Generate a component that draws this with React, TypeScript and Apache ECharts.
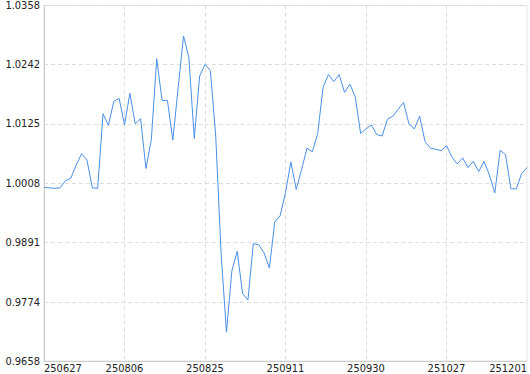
import React, { useEffect, useRef } from "react";
import * as echarts from "echarts";

const dates: string[] = [
  "250627", "250630", "250703", "250707", "250709", "250711", "250715", "250717",
  "250721", "250723", "250725", "250729", "250731", "250801", "250804", "250806",
  "250807", "250808", "250811", "250812", "250813", "250814", "250815", "250816",
  "250818", "250819", "250820", "250821", "250822", "250823", "250825",
  "250826", "250827", "250828", "250829", "250830", "250901", "250902", "250903",
  "250904", "250905", "250906", "250908", "250909", "250910", "250911",
  "250912", "250913", "250915", "250916", "250917", "250918", "250919", "250920",
  "250922", "250923", "250924", "250925", "250926", "250929", "250930",
  "251009", "251010", "251011", "251013", "251014", "251015", "251016", "251017",
  "251018", "251020", "251021", "251022", "251023", "251024", "251027",
  "251029", "251031", "251103", "251105", "251107", "251110", "251112", "251114",
  "251117", "251119", "251121", "251124", "251126", "251128", "251201",
];

const values: number[] = [
  1.0000, 0.9999, 0.9998, 0.9999, 1.0013, 1.0018, 1.0044, 1.0066,
  1.0054, 0.9999, 0.9998, 1.0145, 1.0122, 1.0169, 1.0175, 1.0123,
  1.0185, 1.0125, 1.0135, 1.0037, 1.0094, 1.0253, 1.0171, 1.0171,
  1.0093, 1.0196, 1.0298, 1.0255, 1.0096, 1.0219, 1.0242,
  1.0230, 1.0101, 0.9870, 0.9715, 0.9835, 0.9874, 0.9791, 0.9778,
  0.9889, 0.9887, 0.9871, 0.9841, 0.9932, 0.9944, 0.9990,
  1.0050, 0.9996, 1.0035, 1.0077, 1.0070, 1.0106, 1.0197, 1.0222,
  1.0208, 1.0222, 1.0187, 1.0203, 1.0178, 1.0106, 1.0115,
  1.0123, 1.0104, 1.0101, 1.0134, 1.0140, 1.0154, 1.0167, 1.0125,
  1.0115, 1.0140, 1.0090, 1.0077, 1.0075, 1.0072, 1.0082,
  1.0060, 1.0046, 1.0058, 1.0039, 1.0051, 1.0031, 1.0051, 1.0024,
  0.9989, 1.0073, 1.0064, 0.9997, 0.9997, 1.0027, 1.0039,
];

const yTicks: number[] = [0.9658, 0.9774, 0.9891, 1.0008, 1.0125, 1.0242, 1.0358];
const labelStep = 15;

const FONT = "'DejaVu Sans Condensed', 'DejaVu Sans', sans-serif";

export default function App() {
  const ref = useRef<HTMLDivElement>(null);
  useEffect(() => {
    if (!ref.current) return;
    const chart = echarts.init(ref.current, null, { renderer: "svg" });
    const last = dates.length - 1;
    chart.setOption({
      animation: false,
      grid: {
        left: 44,
        right: 3,
        top: 1,
        bottom: 13,
        show: true,
        borderColor: "#e3e3e3",
        borderWidth: 1,
      },
      xAxis: {
        type: "category",
        data: dates,
        boundaryGap: false,
        axisLine: { lineStyle: { color: "#cccccc" } },
        axisTick: { show: false },
        axisLabel: {
          interval: (i: number) => i % labelStep === 0,
          margin: 2,
          color: "#222",
          fontSize: 11,
          fontFamily: FONT,
          alignMinLabel: "left",
          alignMaxLabel: "right",
        },
        splitLine: {
          show: true,
          interval: (i: number) => i % labelStep === 0 && i !== 0 && i !== last,
          lineStyle: { color: "#dddddd", type: [4, 3] },
        },
      },
      yAxis: {
        type: "value",
        min: yTicks[0],
        max: yTicks[yTicks.length - 1],
        axisLine: { show: true, lineStyle: { color: "#cccccc" } },
        axisTick: { show: false, customValues: yTicks },
        axisLabel: {
          customValues: yTicks,
          formatter: (v: number) => v.toFixed(4),
          margin: 4,
          color: "#222",
          fontSize: 11,
          fontFamily: FONT,
        },
        splitLine: {
          show: true,
          lineStyle: { color: "#dddddd", type: [4, 3] },
        },
      },
      series: [
        {
          type: "line",
          data: values,
          symbol: "none",
          lineStyle: { color: "#4a8fe6", width: 1 },
        },
      ],
    });
    return () => chart.dispose();
  }, []);
  return <div ref={ref} style={{ width: 530, height: 374, position: "absolute", left: 0, top: 0 }} />;
}
